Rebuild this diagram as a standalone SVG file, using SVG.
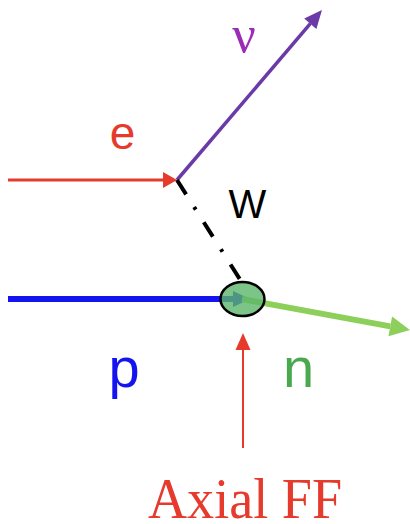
<svg xmlns="http://www.w3.org/2000/svg" width="410" height="524" viewBox="0 0 410 524">
<style>
.lbl{font-family:"Liberation Sans",Arial,sans-serif;}
.ser{font-family:"Liberation Serif","Times New Roman",serif;}
</style>
<defs>
<marker id="hRed" markerUnits="userSpaceOnUse" markerWidth="20" markerHeight="20" refX="0" refY="0" viewBox="0 -10 20 20" orient="auto" overflow="visible"><path d="M0,-8 L14,0 L0,8 z" fill="#e53a2c"/></marker>
<marker id="hRed2" markerUnits="userSpaceOnUse" markerWidth="20" markerHeight="20" refX="0" refY="0" viewBox="0 -10 20 20" orient="auto" overflow="visible"><path d="M0,-7.5 L17,0 L0,7.5 z" fill="#e53a2c"/></marker>
<marker id="hPur" markerUnits="userSpaceOnUse" markerWidth="20" markerHeight="20" refX="0" refY="0" viewBox="0 -10 20 20" orient="auto" overflow="visible"><path d="M0,-8 L18,0 L0,8 z" fill="#6a3aa8"/></marker>
<marker id="hBlue" markerUnits="userSpaceOnUse" markerWidth="20" markerHeight="20" refX="0" refY="0" viewBox="0 -10 20 20" orient="auto" overflow="visible"><path d="M0,-8 L17,0 L0,8 z" fill="#1414f0"/></marker>
<marker id="hGreen" markerUnits="userSpaceOnUse" markerWidth="24" markerHeight="24" refX="0" refY="0" viewBox="0 -12 24 24" orient="auto" overflow="visible"><path d="M0,-10 L20,0 L0,10 z" fill="#8ccf5a"/></marker>
</defs>
<g id="connectors">
<line x1="8" y1="180" x2="163" y2="180" stroke="#e53a2c" stroke-width="3" marker-end="url(#hRed)"/>
<line x1="177" y1="180" x2="310.3" y2="23.7" stroke="#6a3aa8" stroke-width="3.5" marker-end="url(#hPur)"/>
<line x1="177" y1="180" x2="241" y2="281" stroke="#000" stroke-width="4" stroke-dasharray="17 15 3 15"/>
<line x1="8" y1="299" x2="233" y2="299" stroke="#1414f0" stroke-width="6" marker-end="url(#hBlue)"/>
<line x1="242" y1="299" x2="390.3" y2="326.4" stroke="#8ccf5a" stroke-width="6" marker-end="url(#hGreen)"/>
<line x1="243" y1="448" x2="243" y2="350" stroke="#e53a2c" stroke-width="2" marker-end="url(#hRed2)"/>
</g>
<g id="vertex">
<ellipse cx="242.5" cy="299" rx="22" ry="17" fill="#5cb56a" fill-opacity="0.8" stroke="#000" stroke-width="2.5"/>
</g>
<g id="labels">
<text class="lbl" x="122.5" y="149" font-size="46" fill="#e53a2c" text-anchor="middle">e</text>
<text class="ser" x="244" y="52" font-size="52" fill="#9b2bb8" text-anchor="middle">ν</text>
<text class="lbl" x="247.5" y="218" font-size="40" fill="#000" text-anchor="middle">W</text>
<text class="lbl" x="124" y="387" font-size="56" fill="#1414f0" text-anchor="middle">p</text>
<text class="lbl" x="298.5" y="387" font-size="56" fill="#4aa84f" text-anchor="middle">n</text>
<text class="ser" x="148" y="518" font-size="56" fill="#e53a2c" textLength="194" lengthAdjust="spacingAndGlyphs">Axial FF</text>
</g>
</svg>
